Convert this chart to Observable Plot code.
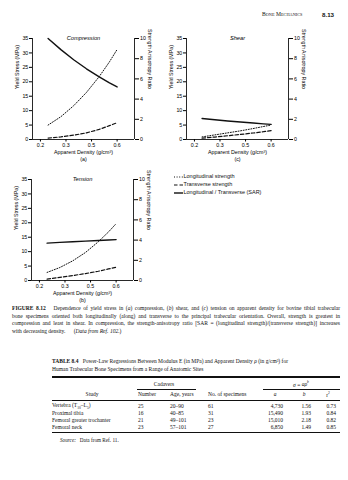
<!DOCTYPE html>
<html><head><meta charset="utf-8">
<script src="https://cdn.jsdelivr.net/npm/d3@7"></script>
<script src="https://cdn.jsdelivr.net/npm/@observablehq/plot@0.6"></script>
<style>
body{margin:0;background:#fff;}
#page{position:relative;width:348px;height:480px;overflow:hidden;background:#fff;font-family:"Liberation Serif","Times New Roman",serif;color:#111;}
.t{position:absolute;white-space:nowrap;line-height:1;}
.rule{position:absolute;background:#111;}
</style></head><body><div id="page"></div>
<script>
// ---------- data ----------
const density = [0.23, 0.28, 0.33, 0.38, 0.43, 0.47, 0.5];
const xTickValues = [0.2, 0.3, 0.4, 0.5];
const xTickLabels = ["0.2", "0.3", "0.5", "0.6"];
const xEdges = [0.169, 0.568];
const yTicks = [0, 5, 10, 15, 20, 25, 30, 35];
const sarTicks = [0, 2, 4, 6, 8, 10];
const sarToStress = 3.5;

const compLong = [5.0, 7.9, 11.7, 16.3, 21.8, 26.9, 31.2];
const compTrans = [0.5, 0.9, 1.5, 2.3, 3.5, 4.8, 5.8];
const compSAR = [10.0, 8.9, 7.9, 7.0, 6.2, 5.6, 5.2];

const tensLong = [2.8, 4.5, 6.8, 9.7, 13.4, 16.8, 19.7];
const tensTrans = [0.5, 1.1, 1.7, 2.4, 3.2, 4.0, 4.6];
const tensSAR = [3.7, 3.77, 3.83, 3.9, 3.96, 4.01, 4.05];

const shearLong = [0.9, 1.6, 2.3, 3.0, 3.8, 4.5, 5.0];
const shearTrans = [0.45, 0.85, 1.3, 1.75, 2.25, 2.7, 3.1];
const shearSAR = [2.08, 1.95, 1.83, 1.73, 1.63, 1.55, 1.5];

const legendLabels = ["Longitudinal strength", "Transverse strength", "Longitudinal / Transverse (SAR)"];

const captionLines = [
  "Dependence of yield stress in (a) compression, (b) shear, and (c) tension on apparent density for bovine tibial trabecular",
  "bone specimens oriented both longitudinally (along) and transverse to the principal trabecular orientation. Overall, strength is greatest in",
  "compression and least in shear. In compression, the strength-anisotropy ratio [SAR = (longitudinal strength)/(transverse strength)] increases",
  "with decreasing density."
];

const studies = ["Vertebra (T<sub>10</sub>–L<sub>5</sub>)", "Proximal tibia", "Femoral greater trochanter", "Femoral neck"];
const cadaverNumbers = ["25", "16", "21", "23"];
const ages = ["20–90", "40–85", "49–101", "57–101"];
const specimens = ["61", "31", "23", "27"];
const aVals = ["4,730", "15,490", "15,010", "6,850"];
const bVals = ["1.56", "1.93", "2.18", "1.49"];
const r2Vals = ["0.73", "0.84", "0.82", "0.85"];

// ---------- helpers ----------
const page = document.getElementById("page");
function put(html, x, y, o = {}) {
  const d = document.createElement("div");
  d.className = "t";
  d.innerHTML = html;
  const size = o.size || 5.6;
  d.style.fontSize = size + "px";
  d.style.left = x + "px";
  d.style.top = y + "px";
  const tx = o.align === "center" ? "-50%" : o.align === "right" ? "-100%" : "0";
  d.style.transform = `translate(${tx},-50%)`;
  if (o.font) d.style.fontFamily = o.font;
  if (o.weight) d.style.fontWeight = o.weight;
  if (o.italic) d.style.fontStyle = "italic";
  page.appendChild(d);
  return d;
}
function rule(x1, x2, y, h) {
  const d = document.createElement("div");
  d.className = "rule";
  d.style.left = x1 + "px"; d.style.width = (x2 - x1) + "px";
  d.style.top = (y - h / 2) + "px"; d.style.height = h + "px";
  page.appendChild(d);
}
const SANS = '"Liberation Sans", Arial, sans-serif';

function chart(title, letter, L, T, S, left, top) {
  const data = density.map((x, i) => ({x, L: L[i], T: T[i], S: S[i] * sarToStress}));
  const svg = Plot.plot({
    width: 160, height: 140,
    marginTop: 13, marginBottom: 26, marginLeft: 32, marginRight: 26,
    x: {domain: xEdges, label: null},
    y: {domain: [0, 35], label: null},
    style: {fontFamily: SANS, fontSize: "5.3px", color: "#000", background: "none", overflow: "visible"},
    marks: [
      Plot.ruleX(xEdges, {y1: 0, y2: 35, stroke: "#111", strokeWidth: 0.9}),
      Plot.ruleY([0], {x1: xEdges[0], x2: xEdges[1], stroke: "#111", strokeWidth: 0.9}),
      Plot.axisX({ticks: xTickValues, tickFormat: d => xTickLabels[xTickValues.indexOf(d)], tickSize: 2.5, tickPadding: 1.5, label: null}),
      Plot.axisY({anchor: "left", ticks: yTicks, tickSize: 3, tickPadding: 1.2, label: null}),
      Plot.axisY({anchor: "right", ticks: sarTicks.map(d => d * sarToStress), tickFormat: d => String(Math.round(d / sarToStress)), tickSize: 4, tickPadding: 1.5, label: null}),
      Plot.line(data, {x: "x", y: "L", stroke: "#111", strokeWidth: 1, strokeDasharray: "1,1.6"}),
      Plot.line(data, {x: "x", y: "T", stroke: "#111", strokeWidth: 1.2, strokeDasharray: "3.5,2"}),
      Plot.line(data, {x: "x", y: "S", stroke: "#111", strokeWidth: 1.4}),
      Plot.text([title], {text: d => d, frameAnchor: "top", dy: -3, fontStyle: "italic", fontSize: 5.7}),
      Plot.text(["Yield Stress (MPa)"], {text: d => d, frameAnchor: "left", rotate: -90, dx: -15, fontSize: 5.3}),
      Plot.text(["Strength Anisotropy Ratio"], {text: d => d, frameAnchor: "right", rotate: 90, dx: 15.5, fontSize: 5.3}),
      Plot.text(["Apparent Density (g/cm³)"], {text: d => d, frameAnchor: "bottom", dy: 14, fontSize: 5.3}),
      Plot.text([letter], {text: d => d, frameAnchor: "bottom", dy: 21.5, fontSize: 5.3})
    ]
  });
  const wrap = document.createElement("div");
  wrap.style.position = "absolute";
  wrap.style.left = left + "px";
  wrap.style.top = top + "px";
  wrap.appendChild(svg);
  page.appendChild(wrap);
}

// ---------- header ----------
put("B<span style='font-size:4.3px'>ONE</span> M<span style='font-size:4.3px'>ECHANICS</span>", 262, 15, {size: 5.6});
put("8.13", 322, 15, {size: 6.2, font: SANS, weight: "bold"});

// ---------- charts ----------
chart("Compression", "(a)", compLong, compTrans, compSAR, 0, 25);
chart("Shear", "(c)", shearLong, shearTrans, shearSAR, 154, 25);
chart("Tension", "(b)", tensLong, tensTrans, tensSAR, -1, 166);

// ---------- legend ----------
const legendDash = ["1,1.6", "3.5,2", null];
const legendW = [1, 1.2, 1.4];
legendLabels.forEach((lab, i) => {
  const y = 177.3 + i * 7.6;
  const s = document.createElementNS("http://www.w3.org/2000/svg", "svg");
  s.setAttribute("width", 9); s.setAttribute("height", 4);
  s.style.position = "absolute"; s.style.left = "174px"; s.style.top = (y - 2) + "px";
  const ln = document.createElementNS("http://www.w3.org/2000/svg", "line");
  ln.setAttribute("x1", 0); ln.setAttribute("x2", 9); ln.setAttribute("y1", 2); ln.setAttribute("y2", 2);
  ln.setAttribute("stroke", "#111"); ln.setAttribute("stroke-width", legendW[i]);
  if (legendDash[i]) ln.setAttribute("stroke-dasharray", legendDash[i]);
  s.appendChild(ln); page.appendChild(s);
  put(lab, 183.5, y, {size: 5.5, font: SANS});
});

// ---------- caption ----------
const capY = [309, 316.5, 324, 331.5];
captionLines.forEach((line, i) => {
  let html = line;
  if (i === 0) html = "<b style='font-family:" + SANS.replace(/"/g, "'") + "'>FIGURE 8.12</b>&nbsp;&nbsp; " + line.replace("(a)", "(<i>a</i>)").replace("(b)", "(<i>b</i>)").replace("(c)", "(<i>c</i>)");
  if (i === 3) html = line + "&nbsp;&nbsp;&nbsp;&nbsp;&nbsp; (<i>Data from Ref. 102.</i>)";
  const d = put(html, 12, capY[i], {size: 5.55});
  if (i < 3) { d.style.width = "328px"; d.style.textAlign = "justify"; d.style.textAlignLast = "justify"; d.style.whiteSpace = "normal"; }
});

// ---------- table ----------
put("<b style='font-family:" + SANS.replace(/"/g, "'") + "'>TABLE 8.4</b>&nbsp;&nbsp; Power-Law Regressions Between Modulus E (in MPa) and Apparent Density <i>ρ</i> (in g/cm³) for", 52, 362, {size: 5.5});
put("Human Trabecular Bone Specimens from a Range of Anatomic Sites", 52, 370, {size: 5.5});
rule(52, 340, 377, 1.3);
put("Cadavers", 164, 385, {size: 5.5, align: "center"});
rule(137, 196, 389.5, 0.5);
put("<i>σ</i> = <i>aρ<sup style='font-size:3.6px'>b</sup></i>", 301, 384.5, {size: 5.5, align: "center"});
rule(263, 340, 389.5, 0.5);
const hy = 395;
put("Study", 92, hy, {size: 5.5, align: "center"});
put("Number", 138, hy, {size: 5.5});
put("Age, years", 170, hy, {size: 5.5});
put("No. of specimens", 208, hy, {size: 5.5});
put("<i>a</i>", 275, hy, {size: 5.5, align: "center"});
put("<i>b</i>", 304, hy, {size: 5.5, align: "center"});
put("r<sup style='font-size:3.6px'>2</sup>", 328, hy, {size: 5.5, align: "center"});
rule(52, 340, 400.5, 0.6);
studies.forEach((s, i) => {
  const y = 406.5 + i * 7;
  put(s.replace(/<sub>/g, "<sub style='font-size:3.6px'>"), 52, y, {size: 5.5});
  put(cadaverNumbers[i], 138, y, {size: 5.5});
  put(ages[i], 170, y, {size: 5.5});
  put(specimens[i], 208, y, {size: 5.5});
  put(aVals[i], 283, y, {size: 5.5, align: "right"});
  put(bVals[i], 311, y, {size: 5.5, align: "right"});
  put(r2Vals[i], 336, y, {size: 5.5, align: "right"});
});
rule(52, 340, 432, 1);
put("<i>Source:</i>&nbsp;&nbsp; Data from Ref. 11.", 60, 441, {size: 5.2});
</script></body></html>
